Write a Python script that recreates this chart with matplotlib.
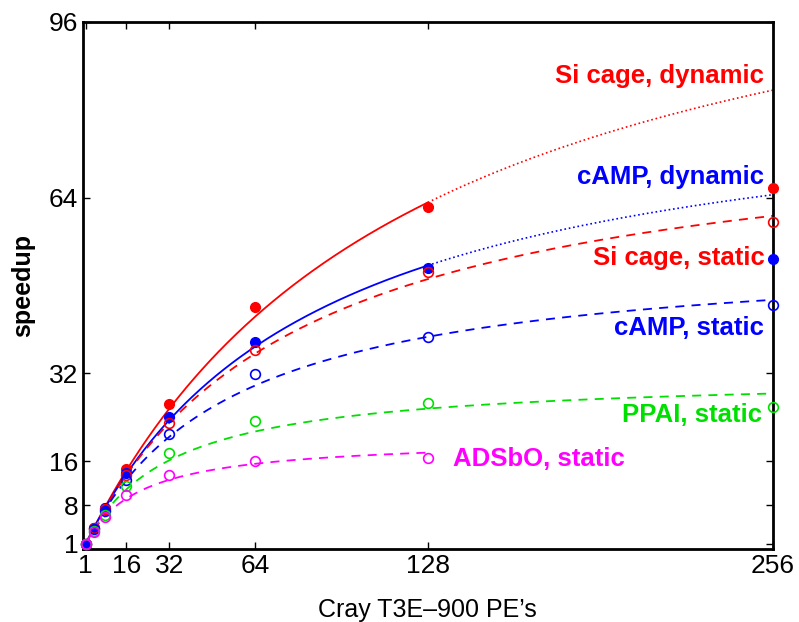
import numpy as np
import matplotlib
matplotlib.use("Agg")
import matplotlib.pyplot as plt

pes = [1, 4, 8, 16, 32, 64, 128, 256]
si_dynamic = [1, 3.9, 7.5, 14.6, 26.4, 44.1, 62.2, 65.8]
camp_dynamic = [1, 3.8, 7.5, 13.8, 24.0, 37.8, 51.1, 52.8]
si_static = [1, 3.8, 7.3, 13.5, 23.0, 36.2, 50.5, 59.6]
camp_static = [1, 3.6, 7.0, 12.6, 20.9, 31.9, 38.7, 44.4]
ppai_static = [1, 3.4, 6.2, 11.5, 17.5, 23.3, 26.7, 25.9]
adsbo_pes = [1, 4, 8, 16, 32, 64, 128]
adsbo_static = [1, 3.2, 5.9, 9.8, 13.6, 16.0, 16.6]

xticks = [1, 16, 32, 64, 128, 256]
yticks = [1, 8, 16, 32, 64, 96]

plt.rcParams['font.family'] = ['Liberation Sans', 'DejaVu Sans']


def amdahl(p, f):
    return p / (1 + f * (p - 1))


def fit_serial(p, s):
    # least squares fit of Amdahl's law, grid search over serial fraction
    p = np.asarray(p, float)
    s = np.asarray(s, float)
    fs = np.linspace(0, 0.1, 20001)
    err = ((s[None, :] - amdahl(p[None, :], fs[:, None])) ** 2).sum(axis=1)
    return fs[np.argmin(err)]


fig = plt.figure(figsize=(7.99, 6.22), dpi=100)
ax = fig.add_axes([0.104, 0.117, 0.863, 0.848])

red, blue, green, mag = '#ff0000', '#0000ff', '#00e000', '#ff00ff'
p_all = np.array(pes, float)

# dynamic runs: fitted on points up to 128, solid there, dotted beyond
for vals, col in [(si_dynamic, red), (camp_dynamic, blue)]:
    f = fit_serial(p_all[p_all <= 128], np.array(vals)[p_all <= 128])
    x1 = np.linspace(1, 128, 300)
    x2 = np.linspace(128, 256, 300)
    ax.plot(x1, amdahl(x1, f), '-', color=col, lw=1.3)
    ax.plot(x2, amdahl(x2, f), ':', color=col, lw=1.2)
    ax.plot(pes, vals, 'o', color=col, ms=7, clip_on=False, zorder=4)

# static runs: dashed fits over all points, open markers
for p, vals, col in [(pes, si_static, red), (pes, camp_static, blue),
                     (pes, ppai_static, green), (adsbo_pes, adsbo_static, mag)]:
    f = fit_serial(p, vals)
    x = np.linspace(1, max(p), 400)
    ax.plot(x, amdahl(x, f), '--', color=col, lw=1.3, dashes=(5, 4))
    ax.plot(p, vals, 'o', color=col, ms=7, mfc='none', mew=1.2,
            clip_on=False, zorder=4)

labels = [
    ("Si cage, dynamic", red, 0.988, 0.898),
    ("cAMP, dynamic", blue, 0.988, 0.706),
    ("Si cage, static", red, 0.988, 0.552),
    ("cAMP, static", blue, 0.988, 0.419),
    ("PPAI, static", green, 0.985, 0.255),
    ("ADSbO, static", mag, 0.786, 0.171),
]
for txt, col, x, y in labels:
    ax.text(x, y, txt, color=col, transform=ax.transAxes, ha='right',
            va='center', fontsize=18.5, fontweight='bold')

ax.set_xlim(0, 256)
ax.set_ylim(0, 96)
ax.set_xticks(xticks)
ax.set_yticks(yticks)
ax.tick_params(direction='in', top=True, right=True, length=5, width=1,
               labelsize=19)
for sp in ax.spines.values():
    sp.set_linewidth(2)
ax.set_xlabel("Cray T3E\u2013900 PE\u2019s", fontsize=18, labelpad=14)
ax.set_ylabel("speedup", fontsize=18, fontweight='bold', labelpad=10)

fig.savefig("out.png", dpi=100)
